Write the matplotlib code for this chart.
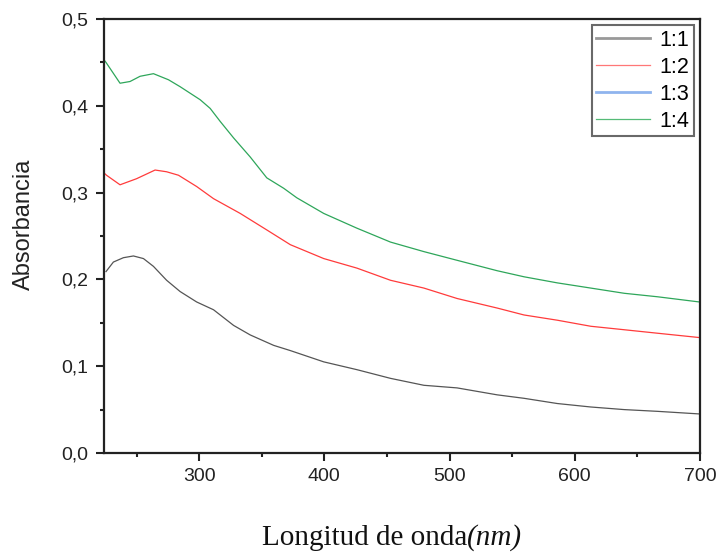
import matplotlib
matplotlib.use('Agg')
import matplotlib.pyplot as plt
from matplotlib.ticker import MultipleLocator, FuncFormatter

# wavelength (nm) and absorbance values
x_11 = [225.6, 231.5, 239.5, 247.5, 255.5, 263.5, 274, 284.8, 298, 311.5, 327.5, 340.8,
        359.5, 372.8, 399.5, 426, 452.8, 479.5, 506, 538, 559.5, 586, 612.8, 639.5, 666, 699.5]
y_11 = [0.209, 0.220, 0.225, 0.227, 0.224, 0.215, 0.199, 0.186, 0.174, 0.165, 0.147, 0.136,
        0.124, 0.118, 0.105, 0.096, 0.086, 0.078, 0.075, 0.067, 0.063, 0.057, 0.053, 0.050, 0.048, 0.045]

x_12 = [224.5, 226, 236.8, 250, 264.8, 274, 283.5, 298, 311.5, 332.8, 354, 372.8, 399.5,
        426, 452.8, 479.5, 506, 538, 559.5, 586, 612.8, 639.5, 666, 699.5]
y_12 = [0.322, 0.320, 0.309, 0.316, 0.326, 0.324, 0.320, 0.307, 0.293, 0.276, 0.257, 0.240,
        0.224, 0.213, 0.199, 0.190, 0.178, 0.167, 0.159, 0.153, 0.146, 0.142, 0.138, 0.133]

x_14 = [224.5, 225.6, 236.8, 244.8, 252.8, 263.5, 275.5, 284.8, 300.8, 308.8, 316.8, 327.5,
        340.8, 354, 367.5, 378, 399.5, 426, 452.8, 479.5, 506, 538, 559.5, 586, 612.8,
        639.5, 666, 699.5]
y_14 = [0.452, 0.450, 0.426, 0.428, 0.434, 0.437, 0.430, 0.422, 0.407, 0.397, 0.382, 0.363,
        0.341, 0.317, 0.305, 0.294, 0.276, 0.259, 0.243, 0.232, 0.222, 0.210, 0.203, 0.196,
        0.190, 0.184, 0.180, 0.174]

plt.rcParams['font.family'] = ['Liberation Sans', 'DejaVu Sans']

fig = plt.figure(figsize=(7.21, 5.58), dpi=100)
ax = fig.add_axes([104 / 721, 1 - 453 / 558, 596 / 721, 434 / 558])

ax.plot(x_11, y_11, color='#555555', lw=0.9, label='1:1')
ax.plot(x_12, y_12, color='#ff3b3b', lw=0.9, label='1:2')
ax.plot([], [], color='#8fb4ee', lw=2.0, label='1:3')
ax.plot(x_14, y_14, color='#2ea65a', lw=0.9, label='1:4')

ax.set_xlim(224, 700)
ax.set_ylim(0, 0.5)
ax.xaxis.set_major_locator(MultipleLocator(100))
ax.xaxis.set_minor_locator(MultipleLocator(50))
ax.yaxis.set_major_locator(MultipleLocator(0.1))
ax.yaxis.set_minor_locator(MultipleLocator(0.05))
ax.yaxis.set_major_formatter(FuncFormatter(lambda v, p: f'{v:.1f}'.replace('.', ',')))

ax.tick_params(which='both', direction='out', width=1.5, colors='#222222',
               labelsize=14, top=False, right=False)
ax.tick_params(which='major', length=6, pad=5)
ax.tick_params(which='minor', length=3)
for s in ax.spines.values():
    s.set_linewidth(1.6)
    s.set_color('#222222')

leg = ax.legend(loc='upper right', fontsize=15.5, handlelength=2.5, frameon=True,
                fancybox=False, borderaxespad=0.3, labelspacing=0.28, handletextpad=0.45,
                borderpad=0.2)
leg.get_frame().set_edgecolor('#444444')
leg.get_frame().set_linewidth(1.5)
leg.legend_handles[0].set_color('#999999')
leg.legend_handles[0].set_linewidth(2.0)
leg.legend_handles[1].set_color('#ff7777')
leg.legend_handles[3].set_color('#55bb77')

fig.text(24 / 721, 1 - 224 / 558, 'Absorbancia', rotation=90, ha='center', va='center',
         fontsize=17, color='#222222')

# x label: upright part followed by italic "(nm)"
lab1 = fig.text(262 / 721, 1 - 538 / 558, 'Longitud de onda', ha='left', va='center',
                fontsize=21, family='Liberation Serif', color='#111111')
fig.canvas.draw()
bb = lab1.get_window_extent(renderer=fig.canvas.get_renderer())
fig.text(bb.x1 / fig.bbox.width, 1 - 538 / 558, '(nm)', ha='left', va='center',
         fontsize=21, family='Liberation Serif', style='italic', color='#111111')

fig.savefig('out.png', dpi=100)
